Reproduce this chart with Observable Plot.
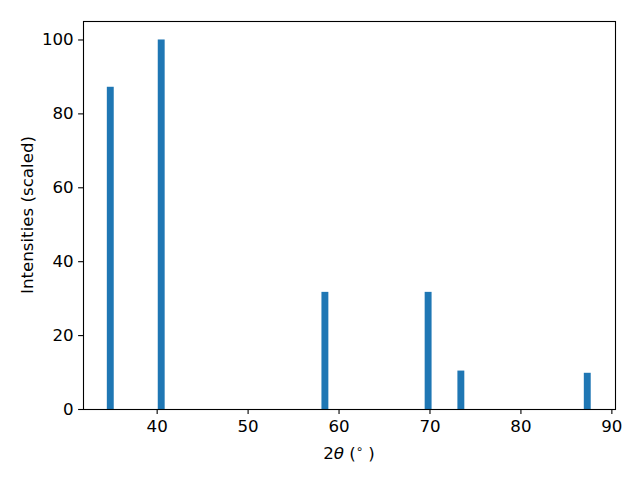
<!DOCTYPE html>
<html>
<head>
<meta charset="utf-8">
<script src="https://cdn.jsdelivr.net/npm/d3@7"></script>
<script src="https://cdn.jsdelivr.net/npm/@observablehq/plot@0.6"></script>
<style>
  html, body { margin: 0; padding: 0; background: #fff; }
  svg { display: block; }
</style>
</head>
<body>
<div id="chart"></div>
<script>
// Peak positions (2θ, degrees) and scaled intensities
const twoTheta = [34.9, 40.5, 58.5, 69.85, 73.45, 87.35];
const intensities = [87.2, 100, 31.7, 31.7, 10.4, 9.8];
const binWidth = 0.76;
const xTicks = [40, 50, 60, 70, 80, 90];
const yTicks = [0, 20, 40, 60, 80, 100];

const data = twoTheta.map((t, i) => ({t, v: intensities[i]}));

const fontSize = 16.67;
const plot = Plot.plot({
  width: 640,
  height: 480,
  marginLeft: 83,
  marginRight: 25,
  marginTop: 21,
  marginBottom: 71,
  style: {color: "#000", background: "#fff"},
  x: {domain: [31.9, 90.4]},
  y: {domain: [0, 105]},
  marks: [
    Plot.rectY(data, {x1: d => d.t - binWidth / 2, x2: d => d.t + binWidth / 2, y1: 0, y2: "v", fill: "#1f77b4", inset: 0}),
    Plot.frame({stroke: "#000", strokeWidth: 1.1}),
    Plot.axisX({ticks: xTicks, tickSize: 4.9, tickPadding: 6, tickFormat: d => String(d), label: null, strokeWidth: 1.1}),
    Plot.axisY({ticks: yTicks, tickSize: 4.9, tickPadding: 4.9, tickFormat: d => String(d), label: null, strokeWidth: 1.1})
  ]
});
document.getElementById("chart").appendChild(plot);

const svg = d3.select(plot);
// x axis label: 2θ (°)
const xl = svg.append("text")
  .attr("x", 349).attr("y", 459)
  .attr("text-anchor", "middle")
  .attr("fill", "#000");
xl.append("tspan").text("2");
xl.append("tspan").attr("class", "it").text("θ");
xl.append("tspan").text(" (");
xl.append("tspan").attr("class", "sup").attr("dy", -6).text("∘");
xl.append("tspan").attr("dy", 6).text(" )");

// y axis label
svg.append("text")
  .attr("transform", "translate(32.5,215) rotate(-90)")
  .attr("text-anchor", "middle")
  .attr("fill", "#000")
  .text("Intensities (scaled)");

svg.selectAll("text")
  .style("font-family", "DejaVu Sans")
  .style("font-size", fontSize + "px")
  .attr("font-family", "DejaVu Sans")
  .attr("font-size", fontSize);
svg.selectAll("tspan.it")
  .style("font-family", "DejaVu Sans")
  .style("font-style", "italic");
svg.selectAll("tspan.sup")
  .style("font-size", "11.7px");
</script>
</body>
</html>
